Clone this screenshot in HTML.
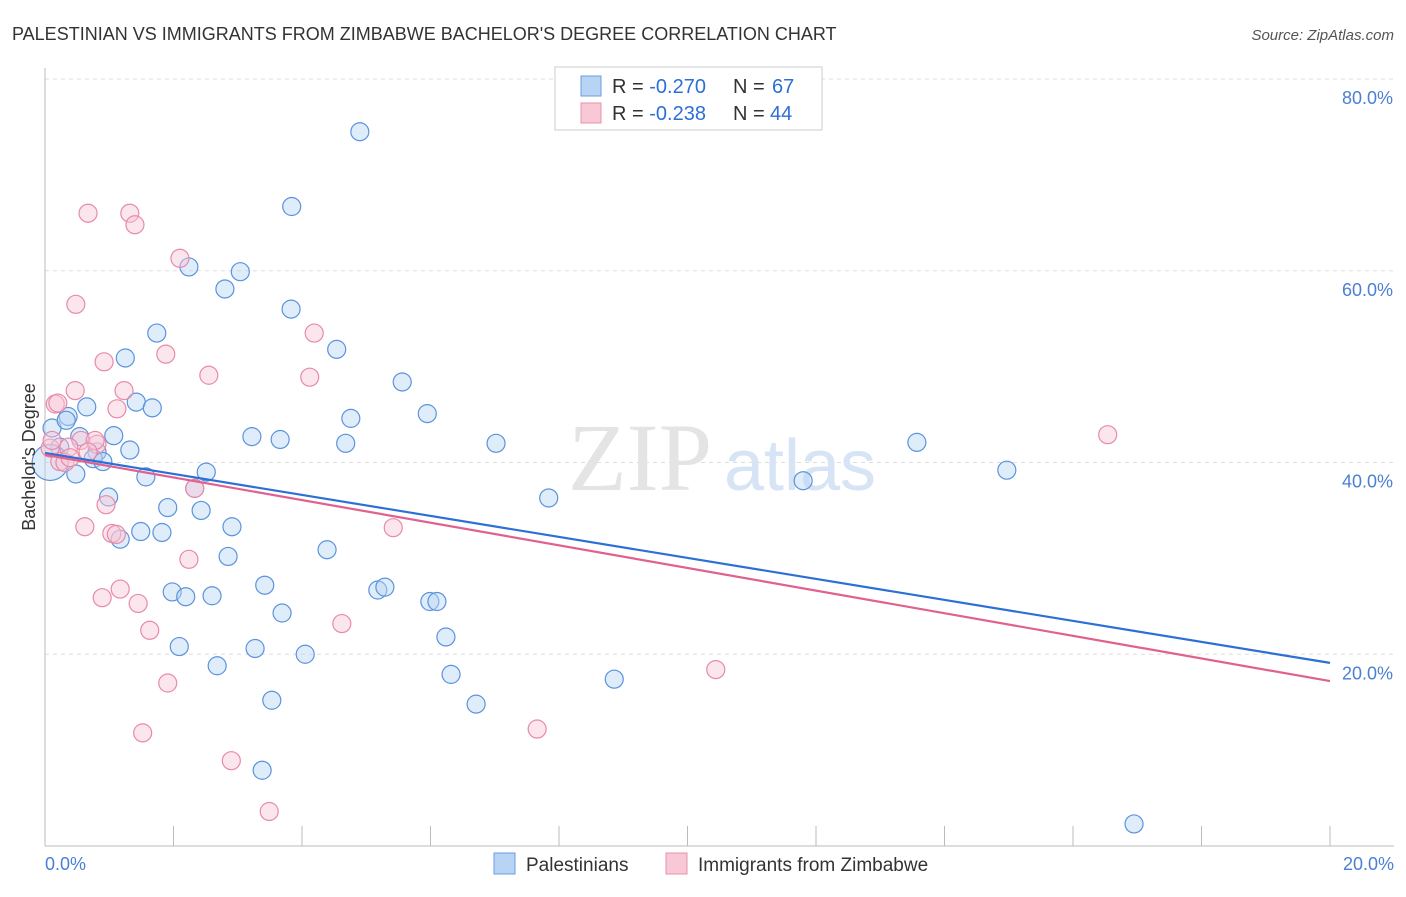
<!DOCTYPE html>
<html><head><meta charset="utf-8"><style>
body{margin:0;background:#fff;font-family:"Liberation Sans",sans-serif;}
</style></head><body>
<svg width="1406" height="892" xmlns="http://www.w3.org/2000/svg" style="font-family:'Liberation Sans',sans-serif">
<text x="12" y="40" font-size="18" fill="#333">PALESTINIAN VS IMMIGRANTS FROM ZIMBABWE BACHELOR'S DEGREE CORRELATION CHART</text>
<text x="1394" y="40" font-size="15" fill="#555" font-style="italic" text-anchor="end">Source: ZipAtlas.com</text>
<g id="grid"></g>
<text x="640" y="490" font-size="96" fill="#e4e4e4" font-family="Liberation Serif" text-anchor="middle">ZIP</text>
<text x="800" y="490" font-size="72" fill="#d6e4f5" text-anchor="middle">atlas</text>
<line x1="45" y1="68" x2="45" y2="846" stroke="#bbb"/>
<line x1="45" y1="846" x2="1394" y2="846" stroke="#bbb"/>
<g id="ticks"></g>
<g id="pts"></g>
<g id="trends"></g>
<text x="35" y="457" font-size="18" fill="#333" text-anchor="middle" transform="rotate(-90 35 457)">Bachelor's Degree</text>
<text x="45" y="870" font-size="18" fill="#4a7fd4">0.0%</text>
<text x="1394" y="870" font-size="18" fill="#4a7fd4" text-anchor="end">20.0%</text>
<g>
<rect x="555" y="67" width="267" height="63" fill="#fff" stroke="#ccc"/>
<rect x="581" y="76" width="20" height="20" fill="#b8d4f5" stroke="#6a9de0"/>
<rect x="581" y="103" width="20" height="20" fill="#f9c8d6" stroke="#e890ab"/>
<text x="612" y="93" font-size="20" fill="#333">R = <tspan fill="#2c6fd6">-0.270</tspan></text>
<text x="733" y="93" font-size="20" fill="#333">N = </text>
<text x="772" y="93" font-size="20" fill="#2c6fd6">67</text>
<text x="612" y="120" font-size="20" fill="#333">R = <tspan fill="#2c6fd6">-0.238</tspan></text>
<text x="733" y="120" font-size="20" fill="#333">N = </text>
<text x="770" y="120" font-size="20" fill="#2c6fd6">44</text>
</g>
<g>
<rect x="494" y="853" width="21" height="21" fill="#b8d4f5" stroke="#6a9de0"/>
<text x="526" y="871" font-size="19" fill="#333">Palestinians</text>
<rect x="666" y="853" width="21" height="21" fill="#f9c8d6" stroke="#e890ab"/>
<text x="698" y="871" font-size="19" fill="#333">Immigrants from Zimbabwe</text>
</g>
</svg>
<script>
const yTicks=[20,40,60,80];
const yTickLabels=["20.0%","40.0%","60.0%","80.0%"];
const xTicks=[0,2,4,6,8,10,12,14,16,18,20];
const blueX=[4.9,3.84,2.24,3.04,2.8,3.83,1.74,4.54,1.25,5.56,1.42,1.67,0.65,0.36,5.95,4.76,1.07,3.22,3.66,4.68,7.02,13.57,0.54,1.32,0.81,0.23,0.75,0.90,2.51,0.48,1.57,14.97,11.80,2.33,0.99,7.84,1.91,2.43,2.91,1.49,1.82,1.17,4.39,2.85,3.42,5.18,5.29,1.98,2.19,2.60,5.99,6.10,3.69,6.24,2.09,3.27,4.05,2.68,6.32,8.86,3.53,6.71,3.38,16.95,0.08,0.11,0.33];
const blueY=[74.5,66.7,60.4,59.9,58.1,56.0,53.5,51.8,50.9,48.4,46.3,45.7,45.8,44.8,45.1,44.6,42.8,42.7,42.4,42.0,42.0,42.1,42.7,41.3,41.1,41.6,40.4,40.1,39.0,38.8,38.5,39.2,38.1,37.3,36.4,36.3,35.3,35.0,33.3,32.8,32.7,32.0,30.9,30.2,27.2,26.7,27.0,26.5,26.0,26.1,25.5,25.5,24.3,21.8,20.8,20.6,20.0,18.8,17.9,17.4,15.2,14.8,7.9,2.3,40.0,43.6,44.4];
const blueR=[9,9,9,9,9,9,9,9,9,9,9,9,9,9,9,9,9,9,9,9,9,9,9,9,9,9,9,9,9,9,9,9,9,9,9,9,9,9,9,9,9,9,9,9,9,9,9,9,9,9,9,9,9,9,9,9,9,9,9,9,9,9,9,9,18,9,9];
const pinkX=[0.67,1.32,1.40,2.10,0.48,4.19,1.88,0.92,2.55,4.12,0.47,1.23,0.16,0.20,1.12,16.54,0.56,0.81,0.37,0.23,0.31,2.33,0.95,0.62,5.42,1.04,1.11,2.24,1.17,0.89,1.45,1.63,4.62,10.44,1.91,1.52,7.66,2.90,3.49,0.08,0.11,0.78,0.39,0.67];
const pinkY=[66.0,66.0,64.8,61.3,56.5,53.5,51.3,50.5,49.1,48.9,47.5,47.5,46.1,46.2,45.6,42.9,42.3,41.9,41.6,40.1,40.0,37.3,35.6,33.3,33.2,32.6,32.5,29.9,26.8,25.9,25.3,22.5,23.2,18.4,17.0,11.8,12.2,8.9,3.6,41.5,42.3,42.3,40.5,41.1];
const trendIntercept=[41.0,40.8];
const trendEnd=[19.1,17.2];
const ns="http://www.w3.org/2000/svg";
const sx=v=>45+v*64.25, sy=v=>846-v*9.5875;
const grid=document.getElementById('grid');
yTicks.forEach((t,i)=>{
 const l=document.createElementNS(ns,'line');
 l.setAttribute('x1',45);l.setAttribute('x2',1394);l.setAttribute('y1',sy(t));l.setAttribute('y2',sy(t));
 l.setAttribute('stroke','#ddd');l.setAttribute('stroke-dasharray','4,4');
 
 
 grid.appendChild(l);
 const tx=document.createElementNS(ns,'text');
 tx.setAttribute('x',1393);tx.setAttribute('y',sy(t)+25);tx.setAttribute('font-size','18');tx.setAttribute('fill','#4a7fd4');tx.setAttribute('text-anchor','end');
 tx.textContent=yTickLabels[i];
 
 
 grid.appendChild(tx);
});
const tk=document.getElementById('ticks');
xTicks.forEach(t=>{
 const l=document.createElementNS(ns,'line');
 l.setAttribute('x1',sx(t));l.setAttribute('x2',sx(t));l.setAttribute('y1',826);l.setAttribute('y2',846);l.setAttribute('stroke','#bbb');
 
 
 tk.appendChild(l);
});
const pts=document.getElementById('pts');
function dot(x,y,r,fill,stroke,name){
 const c=document.createElementNS(ns,'circle');
 c.setAttribute('cx',sx(x));c.setAttribute('cy',sy(y));c.setAttribute('r',r);
 c.setAttribute('fill',fill);c.setAttribute('fill-opacity','0.45');c.setAttribute('stroke',stroke);c.setAttribute('stroke-width','1.2');
 
 
 pts.appendChild(c);
}
blueX.forEach((x,i)=>dot(x,blueY[i],blueR[i],'#b8d4f5','#5b93dc','palestinian-point'));
pinkX.forEach((x,i)=>dot(x,pinkY[i],9,'#f9c8d6','#e88aa8','zimbabwe-point'));
const tr=document.getElementById('trends');
const cols=['#2c6fd6','#e0618e'];
trendIntercept.forEach((b,i)=>{
 const l=document.createElementNS(ns,'line');
 l.setAttribute('x1',sx(0));l.setAttribute('y1',sy(b));l.setAttribute('x2',sx(20));l.setAttribute('y2',sy(trendEnd[i]));
 l.setAttribute('stroke',cols[i]);l.setAttribute('stroke-width','2.2');
 
 
 tr.appendChild(l);
});
</script>
</body></html>
